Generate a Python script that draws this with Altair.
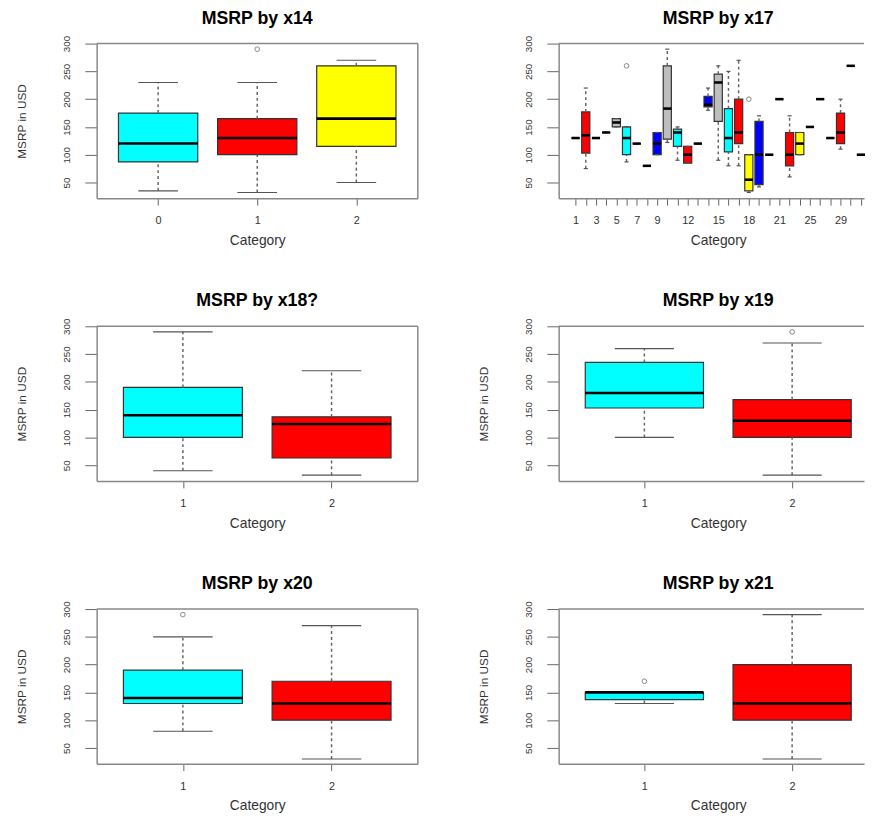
import altair as alt
import pandas as pd

PALETTE = ["#00FFFF", "#FF0000", "#FFFF00", "#0000FF", "#BEBEBE"]
FONT = "Liberation Sans"

# ---- MSRP by x14 ----
x14_names = ["0", "1", "2"]
x14_low = [35, 32, 50]
x14_q1 = [87, 100, 115]
x14_med = [120, 130, 165]
x14_q3 = [175, 165, 260]
x14_high = [230, 230, 270]
x14_out_pos = [2]
x14_out_val = [290]

# ---- MSRP by x17 ----
x17_names = ["1", "2", "3", "4", "5", "6", "7", "8", "9", "10", "11", "12", "13", "14",
             "15", "16", "17", "18", "19", "20", "21", "22", "23", "25", "26", "28",
             "29", "30", "31"]
x17_low = [130, 75, 130, 140, 150, 87, 120, 80, 100, 122, 90, 85, 120, 180, 90,
           80, 80, 32, 42, 100, 200, 60, 100, 150, 200, 130, 110, 260, 100]
x17_q1 = [130, 103, 130, 140, 150, 100, 120, 80, 100, 128, 115, 85, 120, 186, 160,
          105, 120, 35, 46, 100, 200, 80, 100, 150, 200, 130, 120, 260, 100]
x17_med = [130, 135, 130, 140, 158, 130, 120, 80, 120, 183, 140, 100, 120, 190, 230,
           130, 140, 55, 100, 100, 200, 100, 120, 150, 200, 130, 140, 260, 100]
x17_q3 = [130, 177, 130, 140, 165, 150, 120, 80, 140, 260, 146, 115, 120, 205, 245,
          183, 200, 100, 160, 100, 200, 140, 140, 150, 200, 130, 175, 260, 100]
x17_high = [130, 220, 130, 140, 165, 150, 120, 80, 140, 290, 150, 115, 120, 220, 260,
            250, 270, 100, 170, 100, 200, 170, 140, 150, 200, 130, 200, 260, 100]
x17_out_pos = [6, 18]
x17_out_val = [260, 200]
x17_shown = [1, 3, 5, 7, 9, 12, 15, 18, 21, 24, 27]

# ---- MSRP by x18? ----
x18_names = ["1", "2"]
x18_low = [40, 32]
x18_q1 = [100, 63]
x18_med = [140, 124]
x18_q3 = [190, 137]
x18_high = [290, 220]
x18_out_pos = []
x18_out_val = []

# ---- MSRP by x19 ----
x19_names = ["1", "2"]
x19_low = [100, 32]
x19_q1 = [153, 100]
x19_med = [180, 130]
x19_q3 = [235, 168]
x19_high = [260, 270]
x19_out_pos = [2]
x19_out_val = [290]

# ---- MSRP by x20 ----
x20_names = ["1", "2"]
x20_low = [80, 30]
x20_q1 = [130, 100]
x20_med = [140, 130]
x20_q3 = [190, 170]
x20_high = [250, 270]
x20_out_pos = [1]
x20_out_val = [290]

# ---- MSRP by x21 ----
x21_names = ["1", "2"]
x21_low = [130, 30]
x21_q1 = [137, 100]
x21_med = [150, 130]
x21_q3 = [150, 200]
x21_high = [150, 290]
x21_out_pos = [1]
x21_out_val = [170]

Y_TICKS = [50, 100, 150, 200, 250, 300]
Y_DOMAIN = [21.6, 300]
H = 157


def label_expr(names, shown):
    expr = "''"
    for p in reversed(shown):
        expr = "datum.value == %d ? '%s' : (%s)" % (p, names[p - 1], expr)
    return expr


def panel(title, names, low, q1, med, q3, high, out_pos, out_val, col,
          shown=None, ytitle=True):
    n = len(names)
    W = 326 if col == 0 else 324
    visW = 326 if col == 0 else 310
    ppu = W / (1.08 * n)
    lo = 0.5 - 0.04 * n
    hi = lo + visW / ppu
    pos = list(range(1, n + 1))
    colors = [PALETTE[i % len(PALETTE)] for i in range(n)]
    df = pd.DataFrame({"pos": pos, "low": low, "q1": q1, "med": med, "q3": q3,
                       "high": high, "color": colors})
    df["xl"] = df["pos"] - 0.4
    df["xr"] = df["pos"] + 0.4
    df["cl"] = df["pos"] - 0.2
    df["cr"] = df["pos"] + 0.2
    odf = pd.DataFrame({"pos": out_pos, "val": out_val})

    if shown is None:
        shown = pos

    xscale = alt.Scale(domain=[lo, hi], nice=False, zero=False)
    yscale = alt.Scale(domain=Y_DOMAIN, nice=False, zero=False)

    xaxis = alt.Axis(values=pos, labelExpr=label_expr(names, shown), title="Category",
                     tickSize=7, labelPadding=10, labelFontSize=11, labelAngle=0,
                     labelOverlap=False, labelFlush=False, titleFontSize=14,
                     titleX=W / 2, titleY=47, titleAlign="center",
                     titleBaseline="alphabetic", grid=False)
    yaxis = alt.Axis(values=Y_TICKS, labelAngle=270, labelAlign="center",
                     labelBaseline="alphabetic", labelPadding=16, tickSize=12,
                     labelFontSize=10, labelOverlap=False, labelFlush=False,
                     title="MSRP in USD" if ytitle else "", titleFontSize=12,
                     titleAngle=270, titleX=-76, titleY=H / 2, titleAlign="center",
                     titleBaseline="middle", grid=False)

    def X(f):
        return alt.X(f, type="quantitative", scale=xscale, axis=xaxis)

    def Y(f):
        return alt.Y(f, type="quantitative", scale=yscale, axis=yaxis)

    base = alt.Chart(df)
    box = base.mark_rect(stroke="#333", strokeWidth=1.2).encode(
        x=X("xl"), x2="xr:Q", y=Y("q1"), y2="q3:Q",
        color=alt.Color("color:N", scale=None))
    whisk_hi = base.mark_rule(color="#666", strokeWidth=1.5, strokeDash=[3, 3]).encode(
        x=X("pos"), y=Y("q3"), y2="high:Q")
    whisk_lo = base.mark_rule(color="#666", strokeWidth=1.5, strokeDash=[3, 3]).encode(
        x=X("pos"), y=Y("low"), y2="q1:Q")
    cap_hi = base.mark_rule(color="#555", strokeWidth=1.2).encode(
        x=X("cl"), x2="cr:Q", y=Y("high"))
    cap_lo = base.mark_rule(color="#555", strokeWidth=1.2).encode(
        x=X("cl"), x2="cr:Q", y=Y("low"))
    median = base.mark_rule(color="black", strokeWidth=2.6).encode(
        x=X("xl"), x2="xr:Q", y=Y("med"))
    layers = [box, whisk_hi, whisk_lo, cap_hi, cap_lo, median]
    if len(odf):
        outl = alt.Chart(odf).mark_point(shape="circle", filled=False, size=22,
                                         color="#555", strokeWidth=1).encode(
            x=X("pos"), y=Y("val"))
        layers.append(outl)
    one = alt.Chart(pd.DataFrame({"k": [0]}))
    top = one.mark_rule(color="#888", strokeWidth=1.5).encode(
        x=alt.value(0), x2=alt.value(visW), y=alt.value(0))
    layers.append(top)
    if col == 0:
        right = one.mark_rule(color="#888", strokeWidth=1.5).encode(
            x=alt.value(visW), y=alt.value(0), y2=alt.value(H))
        layers.append(right)

    return alt.layer(*layers).properties(
        width=visW, height=H,
        title=alt.TitleParams(text=title, fontSize=18, fontWeight="bold", font=FONT,
                              color="black", anchor="middle", frame="group",
                              offset=-6, baseline="alphabetic", dx=(W - visW) / 2))


p14 = panel("MSRP by x14", x14_names, x14_low, x14_q1, x14_med, x14_q3, x14_high,
            x14_out_pos, x14_out_val, 0)
p17 = panel("MSRP by x17", x17_names, x17_low, x17_q1, x17_med, x17_q3, x17_high,
            x17_out_pos, x17_out_val, 1, shown=x17_shown, ytitle=False)
p18 = panel("MSRP by x18?", x18_names, x18_low, x18_q1, x18_med, x18_q3, x18_high,
            x18_out_pos, x18_out_val, 0)
p19 = panel("MSRP by x19", x19_names, x19_low, x19_q1, x19_med, x19_q3, x19_high,
            x19_out_pos, x19_out_val, 1)
p20 = panel("MSRP by x20", x20_names, x20_low, x20_q1, x20_med, x20_q3, x20_high,
            x20_out_pos, x20_out_val, 0)
p21 = panel("MSRP by x21", x21_names, x21_low, x21_q1, x21_med, x21_q3, x21_high,
            x21_out_pos, x21_out_val, 1)

chart = alt.concat(p14, p17, p18, p19, p20, p21, columns=2,
                   spacing={"row": 130, "column": 143}, bounds="flush").properties(
    padding={"left": 8, "top": -5, "right": 0, "bottom": 0}, background="white"
).configure_view(stroke=None).configure_axis(
    labelFont=FONT, titleFont=FONT, labelColor="#333", titleColor="#333",
    titleFontWeight="normal", tickColor="#666", domainColor="#888",
    domainWidth=1.5, tickWidth=1, labelOverlap=False
)

chart.save("out.html", embed_options={"renderer": "svg", "actions": False})
